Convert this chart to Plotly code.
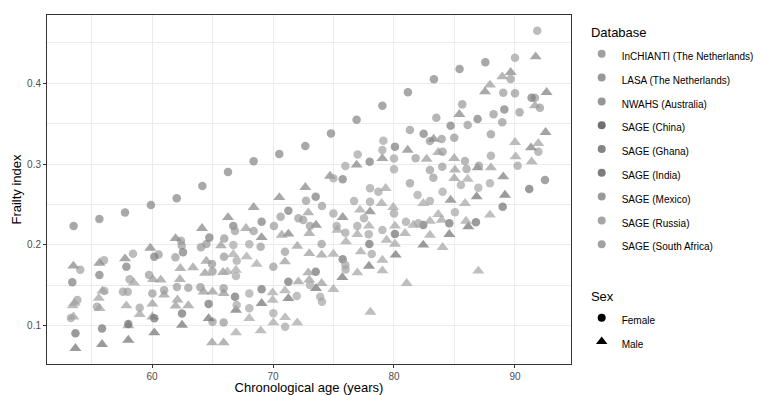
import plotly.graph_objects as go

# ---------------- data (age, frailty index, sex) ----------------
ghana = [
    (53.52, 0.2234, 'F'), (55.65, 0.232, 'F'), (57.77, 0.240, 'F'), (59.91, 0.2494, 'F'),
    (62.04, 0.2576, 'F'), (64.16, 0.2729, 'F'), (66.28, 0.2902, 'F'), (68.40, 0.3034, 'F'),
    (70.52, 0.3125, 'F'), (72.67, 0.3224, 'F'), (74.79, 0.338, 'F'), (76.91, 0.355, 'F'),
    (79.04, 0.3723, 'F'), (81.15, 0.3888, 'F'), (83.30, 0.4049, 'F'), (85.42, 0.4177, 'F'),
    (87.55, 0.4259, 'F'),
    (53.50, 0.1739, 'M'), (55.65, 0.1775, 'M'), (57.77, 0.183, 'M'), (59.86, 0.196, 'M'),
    (61.95, 0.208, 'M'), (64.13, 0.2205, 'M'), (66.28, 0.234, 'M'), (68.40, 0.2465, 'M'),
    (70.52, 0.2588, 'M'), (72.67, 0.2712, 'M'), (74.71, 0.2852, 'M'), (76.91, 0.2989, 'M'),
    (79.04, 0.307, 'M'), (81.13, 0.3174, 'M'), (83.28, 0.331, 'M'), (85.40, 0.3616, 'M'),
    (87.52, 0.3896, 'M'), (89.64, 0.4135, 'M'), (91.71, 0.4329, 'M'),
]

india = [
    (53.41, 0.1537, 'F'), (55.65, 0.1627, 'F'), (57.88, 0.173, 'F'), (60.19, 0.1854, 'F'),
    (62.56, 0.191, 'F'), (64.74, 0.209, 'F'), (66.72, 0.2234, 'F'), (69.06, 0.2287, 'F'),
    (71.27, 0.2423, 'F'), (73.53, 0.2597, 'F'), (75.76, 0.2811, 'F'), (77.99, 0.3030, 'F'),
    (80.08, 0.3215, 'F'), (82.45, 0.3376, 'F'), (84.68, 0.3475, 'F'), (86.91, 0.3558, 'F'),
    (89.12, 0.3677, 'F'), (91.37, 0.3822, 'F'), (92.48, 0.2803, 'F'),
    (69.06, 0.2093, 'M'), (71.27, 0.2135, 'M'), (73.55, 0.2246, 'M'), (75.76, 0.2341, 'M'),
    (78.02, 0.2411, 'M'), (84.68, 0.2555, 'M'), (86.91, 0.2955, 'M'), (89.03, 0.2844, 'M'),
    (91.32, 0.3203, 'M'), (92.53, 0.3393, 'M'), (92.61, 0.3888, 'M'),
]

china = [
    (53.67, 0.0906, 'F'), (55.87, 0.0964, 'F'), (58.04, 0.102, 'F'), (60.19, 0.1091, 'F'),
    (62.48, 0.115, 'F'), (64.68, 0.127, 'F'), (66.86, 0.1359, 'F'), (69.06, 0.1450, 'F'),
    (71.27, 0.1545, 'F'), (73.53, 0.1668, 'F'), (75.76, 0.1821, 'F'), (77.96, 0.2011, 'F'),
    (80.08, 0.2135, 'F'), (82.42, 0.2246, 'F'), (84.57, 0.2267, 'F'), (86.77, 0.2279, 'F'),
    (88.98, 0.2473, 'F'), (91.18, 0.2691, 'F'),
    (53.67, 0.072, 'M'), (55.87, 0.077, 'M'), (58.04, 0.0823, 'M'), (60.19, 0.0913, 'M'),
    (62.48, 0.1008, 'M'), (64.68, 0.109, 'M'), (66.94, 0.1194, 'M'), (69.06, 0.1277, 'M'),
    (71.27, 0.1338, 'M'), (73.55, 0.1462, 'M'), (75.73, 0.1598, 'M'), (77.93, 0.1738, 'M'),
    (80.14, 0.1875, 'M'), (82.42, 0.2, 'M'), (84.57, 0.2131, 'M'), (86.14, 0.2225, 'M'),
    (86.83, 0.2597, 'M'), (89.17, 0.2617, 'M'),
]

inchianti = [
    (54.07, 0.1693, 'F'), (53.60, 0.128, 'M'), (53.45, 0.125, 'M'), (53.83, 0.1318, 'F'),
    (53.30, 0.1096, 'F'), (53.50, 0.111, 'M'), (56.03, 0.181, 'F'), (55.90, 0.143, 'M'),
    (56.06, 0.143, 'F'), (55.60, 0.134, 'M'), (55.45, 0.1235, 'F'), (55.67, 0.1214, 'M'),
    (58.43, 0.189, 'F'), (58.15, 0.1574, 'F'), (58.50, 0.153, 'M'), (57.60, 0.142, 'F'),
    (57.99, 0.142, 'F'), (57.88, 0.1248, 'M'), (58.98, 0.1223, 'F'), (58.98, 0.114, 'M'),
    (90.00, 0.4317, 'F'), (91.84, 0.4651, 'F'), (90.00, 0.3269, 'M'), (91.93, 0.3257, 'M'),
    (91.93, 0.3154, 'F'), (90.05, 0.3092, 'M'), (90.22, 0.298, 'F'), (91.38, 0.303, 'M'),
    (88.01, 0.3104, 'F'),
]

lasa = [
    (58.04, 0.100, 'M'), (60.55, 0.188, 'F'), (59.75, 0.1627, 'F'), (60.08, 0.1573, 'M'),
    (60.72, 0.1566, 'M'), (60.03, 0.140, 'F'), (61.00, 0.144, 'F'), (61.00, 0.138, 'M'),
    (60.03, 0.127, 'M'), (60.03, 0.111, 'M'), (62.39, 0.205, 'F'), (62.45, 0.1994, 'F'),
    (61.93, 0.1846, 'F'), (62.34, 0.171, 'M'), (63.39, 0.172, 'M'), (62.30, 0.1574, 'M'),
    (62.06, 0.148, 'F'), (63.00, 0.147, 'F'), (62.10, 0.132, 'M'), (63.00, 0.125, 'M'),
    (61.95, 0.1245, 'M'),
    (88.95, 0.4082, 'M'), (89.64, 0.4053, 'F'), (87.93, 0.3979, 'M'), (89.03, 0.3884, 'F'),
    (90.00, 0.3876, 'F'), (91.65, 0.3822, 'F'), (91.65, 0.3723, 'M'), (92.06, 0.3698, 'F'),
]

nwahs = [
    (64.05, 0.197, 'F'), (64.50, 0.201, 'F'), (65.70, 0.199, 'M'), (65.97, 0.208, 'F'),
    (64.49, 0.180, 'M'), (64.96, 0.1764, 'F'), (64.38, 0.165, 'M'), (65.00, 0.167, 'F'),
    (65.87, 0.166, 'M'), (65.95, 0.1854, 'F'), (64.00, 0.1475, 'F'), (64.27, 0.142, 'M'),
    (65.00, 0.142, 'M'), (65.92, 0.1462, 'F'), (65.92, 0.140, 'M'), (65.00, 0.105, 'F'),
    (65.92, 0.104, 'F'), (64.96, 0.079, 'M'), (65.92, 0.079, 'M'),
    (85.64, 0.3739, 'F'), (83.50, 0.3574, 'F'), (88.23, 0.3616, 'F'), (90.38, 0.364, 'F'),
    (88.95, 0.3517, 'F'), (86.09, 0.3484, 'F'), (81.32, 0.3422, 'F'), (82.97, 0.3286, 'F'),
    (83.94, 0.331, 'F'), (84.98, 0.3327, 'F'), (88.01, 0.3368, 'F'),
]

mexico = [
    (66.86, 0.2172, 'F'), (67.77, 0.2205, 'M'), (68.40, 0.2172, 'F'), (68.98, 0.1978, 'F'),
    (70.63, 0.2349, 'F'), (70.08, 0.2234, 'F'), (70.72, 0.2122, 'M'), (72.01, 0.1986, 'M'),
    (70.99, 0.1916, 'F'), (70.99, 0.1792, 'M'), (70.03, 0.1730, 'F'), (72.73, 0.2547, 'F'),
    (74.05, 0.248, 'F'), (72.10, 0.2329, 'F'), (72.50, 0.2308, 'F'), (72.92, 0.2399, 'M'),
    (73.06, 0.2234, 'F'), (73.00, 0.2143, 'M'), (73.00, 0.1895, 'M'), (74.02, 0.2011, 'F'),
    (74.02, 0.1875, 'M'), (72.10, 0.1545, 'M'), (72.92, 0.1656, 'M'), (73.00, 0.1566, 'M'),
    (74.02, 0.1524, 'M'),
    (81.79, 0.3071, 'F'), (82.70, 0.3063, 'M'), (83.66, 0.3145, 'M'), (84.02, 0.3154, 'F'),
    (84.98, 0.3071, 'M'), (85.87, 0.3038, 'F'), (86.00, 0.2939, 'F'), (85.04, 0.2927, 'M'),
    (84.98, 0.2824, 'M'), (87.02, 0.298, 'F'), (88.01, 0.2955, 'M'), (82.97, 0.2927, 'F'),
    (83.99, 0.2968, 'F'), (83.25, 0.283, 'F'), (81.32, 0.2762, 'F'),
]

russia = [
    (73.06, 0.1503, 'F'), (73.90, 0.1359, 'F'), (74.05, 0.1297, 'F'), (71.96, 0.1367, 'F'),
    (70.99, 0.1433, 'M'), (69.97, 0.1409, 'M'), (69.97, 0.1318, 'M'), (68.04, 0.14, 'F'),
    (67.00, 0.1256, 'F'), (68.04, 0.1215, 'F'), (68.04, 0.1091, 'M'), (70.03, 0.1153, 'F'),
    (70.03, 0.1037, 'M'), (71.00, 0.0988, 'F'), (71.00, 0.1103, 'M'), (72.01, 0.1037, 'M'),
    (68.98, 0.0938, 'M'), (66.94, 0.0913, 'M'), (66.72, 0.2, 'F'), (66.72, 0.1883, 'M'),
    (67.00, 0.1805, 'F'), (66.94, 0.1689, 'M'), (66.94, 0.1615, 'F'), (67.82, 0.1854, 'M'),
    (68.65, 0.1763, 'M'), (68.04, 0.2007, 'F'), (66.23, 0.1668, 'M'),
    (86.09, 0.2815, 'M'), (85.53, 0.2741, 'F'), (86.97, 0.2708, 'F'), (87.93, 0.2762, 'F'),
    (84.02, 0.2658, 'F'), (81.95, 0.2617, 'F'), (82.42, 0.2514, 'M'), (82.97, 0.2543, 'F'),
    (85.87, 0.2514, 'M'), (87.93, 0.2370, 'M'), (85.04, 0.2403, 'F'), (83.66, 0.2378, 'M'),
]

south_africa = [
    (74.99, 0.2824, 'F'), (75.98, 0.2976, 'F'), (77.00, 0.312, 'F'), (79.12, 0.329, 'F'),
    (79.04, 0.3174, 'F'), (80.00, 0.307, 'F'), (80.00, 0.2935, 'F'), (78.02, 0.2700, 'F'),
    (78.71, 0.2659, 'F'), (79.31, 0.27, 'M'), (76.70, 0.2543, 'F'), (78.02, 0.2535, 'F'),
    (78.98, 0.2514, 'M'), (79.94, 0.2465, 'M'), (80.00, 0.2390, 'F'), (77.19, 0.2432, 'M'),
    (77.52, 0.2329, 'F'), (74.99, 0.2390, 'F'), (75.26, 0.2234, 'F'), (75.32, 0.2184, 'M'),
    (75.98, 0.2151, 'F'), (76.03, 0.2040, 'M'), (76.97, 0.2234, 'F'), (76.97, 0.2131, 'M'),
    (77.93, 0.2234, 'M'), (77.91, 0.2131, 'F'), (79.04, 0.2184, 'F'), (77.25, 0.1916, 'M'),
    (78.16, 0.1887, 'F'), (80.08, 0.2234, 'M'), (79.39, 0.2060, 'M'), (80.08, 0.2011, 'M'),
    (74.99, 0.1887, 'M'), (75.98, 0.1751, 'F'), (76.00, 0.1697, 'F'), (76.97, 0.1656, 'M'),
    (79.04, 0.1813, 'M'), (79.04, 0.1681, 'M'), (74.99, 0.1450, 'M'), (78.05, 0.1169, 'M'),
    (80.99, 0.2287, 'F'), (81.60, 0.2246, 'M'), (82.01, 0.2267, 'F'), (82.97, 0.2295, 'M'),
    (83.94, 0.2308, 'M'), (85.95, 0.2295, 'M'), (82.97, 0.2122, 'M'), (80.91, 0.2143, 'M'),
    (84.02, 0.197, 'M'), (86.97, 0.1677, 'M'), (81.05, 0.1525, 'M'),
]

db_names = ["InCHIANTI (The Netherlands)", "LASA (The Netherlands)", "NWAHS (Australia)",
            "SAGE (China)", "SAGE (Ghana)", "SAGE (India)", "SAGE (Mexico)",
            "SAGE (Russia)", "SAGE (South Africa)"]
db_data = [inchianti, lasa, nwahs, china, ghana, india, mexico, russia, south_africa]
db_colors = ["#a0a0a0", "#989898", "#969696", "#707070", "#838383", "#7c7c7c",
             "#9a9a9a", "#a5a5a5", "#a2a2a2"]
sex_names = ["Female", "Male"]

FONT = "Liberation Sans, Arial, Helvetica, sans-serif"
fig = go.Figure()

# data points
for name, pts, col in zip(db_names, db_data, db_colors):
    fig.add_trace(go.Scatter(
        x=[p[0] for p in pts], y=[p[1] for p in pts], mode="markers",
        marker=dict(color=col,
                    symbol=["circle" if p[2] == "F" else "triangle-up" for p in pts],
                    size=[8.5 if p[2] == "F" else 10.5 for p in pts],
                    line=dict(width=0)),
        showlegend=False, name=name, hoverinfo="x+y+name"))

# legend entries: Database
for name, col in zip(db_names, db_colors):
    fig.add_trace(go.Scatter(
        x=[None], y=[None], mode="markers",
        marker=dict(color=col, symbol="circle", size=8),
        name='<span style="font-size:10px">' + name + '</span>',
        legend="legend", showlegend=True))

# legend entries: Sex
for name, sym, sz in zip(sex_names, ["circle", "triangle-up"], [8, 10]):
    fig.add_trace(go.Scatter(
        x=[None], y=[None], mode="markers",
        marker=dict(color="black", symbol=sym, size=sz),
        name='<span style="font-size:10px">' + name + '</span>',
        legend="legend2", showlegend=True))

axis_common = dict(
    showline=True, linecolor="#333333", linewidth=1, mirror=True,
    ticks="outside", ticklen=3, tickwidth=1, tickcolor="#333333",
    tickfont=dict(size=10, color="#4d4d4d", family=FONT),
    showgrid=True, gridcolor="#ebebeb", gridwidth=1.1, zeroline=False,
    automargin=False,
)

# page body adds an 8 px offset, so the figure is 8 px smaller on each side
fig.update_layout(
    width=753, height=387,
    margin=dict(l=39, r=190, t=7, b=31, autoexpand=False),
    paper_bgcolor="white", plot_bgcolor="white",
    font=dict(family=FONT, color="black"),
    xaxis=dict(range=[51.32, 94.63], tickvals=[60, 70, 80, 90],
               minor=dict(tickvals=[55, 65, 75, 85], showgrid=True,
                          gridcolor="#ebebeb", gridwidth=0.6, ticks=""),
               title=dict(text="Chronological age (years)", font=dict(size=13, color="black"),
                          standoff=9),
               **axis_common),
    yaxis=dict(range=[0.0526, 0.4845], tickvals=[0.1, 0.2, 0.3, 0.4],
               ticktext=["0.1", "0.2", "0.3", "0.4"],
               minor=dict(tickvals=[0.15, 0.25, 0.35, 0.45], showgrid=True,
                          gridcolor="#ebebeb", gridwidth=0.6, ticks=""),
               title=dict(text="Frailty index", font=dict(size=13, color="black"),
                          standoff=2),
               **axis_common),
    legend=dict(x=1.0204, xanchor="left", y=0.9857, yanchor="top",
                bgcolor="rgba(0,0,0,0)", font=dict(size=16, color="black", family=FONT),
                title=dict(text="\u00a0\u00a0Database", font=dict(size=13, color="black")),
                itemsizing="trace"),
    legend2=dict(x=1.0204, xanchor="left", y=0.2292, yanchor="top",
                 bgcolor="rgba(0,0,0,0)", font=dict(size=16, color="black", family=FONT),
                 title=dict(text="\u00a0\u00a0Sex", font=dict(size=13, color="black")),
                 itemsizing="trace"),
)

fig.write_html("out.html")
